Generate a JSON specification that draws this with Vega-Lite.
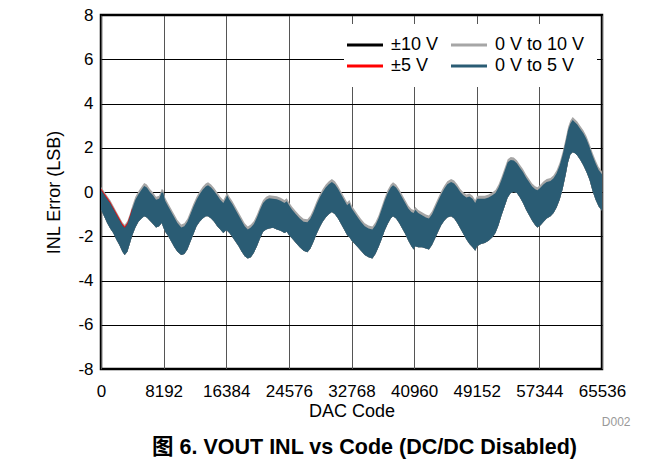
{
  "$schema": "https://vega.github.io/schema/vega-lite/v6.json",
  "width": 501,
  "height": 354,
  "autosize": {"type": "none"},
  "padding": {"left": 101, "top": 15, "right": 69, "bottom": 96},
  "background": "white",
  "config": {
    "view": {"stroke": "black", "strokeWidth": 2.5},
    "font": "Liberation Sans",
    "axis": {
      "labelFont": "Liberation Sans",
      "labelFontSize": 17,
      "labelColor": "black",
      "titleFont": "Liberation Sans",
      "titleFontSize": 18,
      "titleFontWeight": "normal",
      "titleColor": "black",
      "ticks": false,
      "tickSize": 0,
      "domain": false,
      "gridColor": "black",
      "gridWidth": 1,
      "gridOpacity": 1
    }
  },
  "title": {
    "text": "图 6. VOUT INL vs Code (DC/DC Disabled)",
    "orient": "bottom",
    "anchor": "middle",
    "fontSize": 21.5,
    "fontWeight": "bold",
    "font": "Liberation Sans, Noto Sans CJK SC",
    "color": "black",
    "offset": 10,
    "dx": 13
  },
  "datasets": {
    "inl": [
      {"code": 0, "hi": 0.1, "lo": -0.8},
      {"code": 400, "hi": -0.1, "lo": -1.1},
      {"code": 800, "hi": -0.3, "lo": -1.4},
      {"code": 1200, "hi": -0.5, "lo": -1.65},
      {"code": 1600, "hi": -0.75, "lo": -1.85},
      {"code": 2000, "hi": -1.0, "lo": -2.15},
      {"code": 2400, "hi": -1.25, "lo": -2.4},
      {"code": 2800, "hi": -1.5, "lo": -2.7},
      {"code": 3100, "hi": -1.62, "lo": -2.85},
      {"code": 3450, "hi": -1.45, "lo": -2.7},
      {"code": 3800, "hi": -1.1, "lo": -2.3},
      {"code": 4100, "hi": -0.75, "lo": -1.95},
      {"code": 4500, "hi": -0.35, "lo": -1.6},
      {"code": 4900, "hi": -0.1, "lo": -1.35},
      {"code": 5300, "hi": 0.1, "lo": -1.2},
      {"code": 5650, "hi": 0.27, "lo": -1.1},
      {"code": 6000, "hi": 0.2, "lo": -1.15},
      {"code": 6400, "hi": 0.0, "lo": -1.3},
      {"code": 6800, "hi": -0.15, "lo": -1.45},
      {"code": 7200, "hi": -0.35, "lo": -1.6},
      {"code": 7600, "hi": -0.3, "lo": -1.55},
      {"code": 7950, "hi": 0.0, "lo": -1.4},
      {"code": 8150, "hi": -0.05, "lo": -1.6},
      {"code": 8400, "hi": -0.4, "lo": -1.8},
      {"code": 8800, "hi": -0.65, "lo": -2.0},
      {"code": 9200, "hi": -0.9, "lo": -2.25},
      {"code": 9600, "hi": -1.15, "lo": -2.5},
      {"code": 10000, "hi": -1.4, "lo": -2.7},
      {"code": 10500, "hi": -1.6, "lo": -2.85},
      {"code": 10900, "hi": -1.55, "lo": -2.8},
      {"code": 11300, "hi": -1.35, "lo": -2.6},
      {"code": 11700, "hi": -1.0, "lo": -2.25},
      {"code": 12100, "hi": -0.65, "lo": -1.9},
      {"code": 12500, "hi": -0.35, "lo": -1.55},
      {"code": 12900, "hi": -0.1, "lo": -1.35},
      {"code": 13300, "hi": 0.1, "lo": -1.2},
      {"code": 13700, "hi": 0.25, "lo": -1.1},
      {"code": 14000, "hi": 0.3, "lo": -1.1},
      {"code": 14400, "hi": 0.2, "lo": -1.2},
      {"code": 14800, "hi": 0.05, "lo": -1.35},
      {"code": 15200, "hi": -0.15, "lo": -1.55},
      {"code": 15600, "hi": -0.35, "lo": -1.7},
      {"code": 16000, "hi": -0.5, "lo": -1.85},
      {"code": 16300, "hi": -0.3, "lo": -1.75},
      {"code": 16500, "hi": -0.15, "lo": -1.75},
      {"code": 16800, "hi": -0.35, "lo": -1.85},
      {"code": 17200, "hi": -0.55, "lo": -2.05},
      {"code": 17600, "hi": -0.8, "lo": -2.25},
      {"code": 18000, "hi": -1.05, "lo": -2.45},
      {"code": 18400, "hi": -1.3, "lo": -2.7},
      {"code": 18800, "hi": -1.55, "lo": -2.9},
      {"code": 19200, "hi": -1.7, "lo": -3.0},
      {"code": 19600, "hi": -1.6, "lo": -2.95},
      {"code": 20000, "hi": -1.45, "lo": -2.75},
      {"code": 20400, "hi": -1.15, "lo": -2.45},
      {"code": 20800, "hi": -0.8, "lo": -2.1},
      {"code": 21200, "hi": -0.5, "lo": -1.8},
      {"code": 21600, "hi": -0.35, "lo": -1.7},
      {"code": 22000, "hi": -0.28, "lo": -1.65},
      {"code": 22500, "hi": -0.3, "lo": -1.62},
      {"code": 23000, "hi": -0.33, "lo": -1.7},
      {"code": 23500, "hi": -0.4, "lo": -1.75},
      {"code": 24000, "hi": -0.5, "lo": -1.85},
      {"code": 24300, "hi": -0.42, "lo": -1.8},
      {"code": 24600, "hi": -0.6, "lo": -1.95},
      {"code": 25000, "hi": -0.8, "lo": -2.1},
      {"code": 25500, "hi": -1.0, "lo": -2.3},
      {"code": 26000, "hi": -1.2, "lo": -2.5},
      {"code": 26500, "hi": -1.35, "lo": -2.65},
      {"code": 27000, "hi": -1.37, "lo": -2.72},
      {"code": 27400, "hi": -1.2, "lo": -2.55},
      {"code": 27800, "hi": -0.9, "lo": -2.25},
      {"code": 28200, "hi": -0.55, "lo": -1.9},
      {"code": 28600, "hi": -0.25, "lo": -1.6},
      {"code": 29000, "hi": 0.0, "lo": -1.35},
      {"code": 29400, "hi": 0.2, "lo": -1.15},
      {"code": 29800, "hi": 0.35, "lo": -1.0},
      {"code": 30200, "hi": 0.45, "lo": -0.9},
      {"code": 30600, "hi": 0.35, "lo": -1.0},
      {"code": 31000, "hi": 0.15, "lo": -1.2},
      {"code": 31400, "hi": -0.1, "lo": -1.45},
      {"code": 31800, "hi": -0.35, "lo": -1.7},
      {"code": 32200, "hi": -0.6, "lo": -1.95},
      {"code": 32500, "hi": -0.5, "lo": -2.05},
      {"code": 32800, "hi": -0.75, "lo": -2.2},
      {"code": 33200, "hi": -0.95, "lo": -2.35},
      {"code": 33600, "hi": -1.15, "lo": -2.5},
      {"code": 34000, "hi": -1.35, "lo": -2.65},
      {"code": 34500, "hi": -1.55, "lo": -2.85},
      {"code": 35000, "hi": -1.65, "lo": -2.95},
      {"code": 35500, "hi": -1.7, "lo": -3.0},
      {"code": 35900, "hi": -1.5, "lo": -2.8},
      {"code": 36300, "hi": -1.2, "lo": -2.5},
      {"code": 36700, "hi": -0.8, "lo": -2.15},
      {"code": 37100, "hi": -0.4, "lo": -1.75},
      {"code": 37500, "hi": -0.05, "lo": -1.45},
      {"code": 37900, "hi": 0.2, "lo": -1.2},
      {"code": 38200, "hi": 0.3, "lo": -1.1},
      {"code": 38600, "hi": 0.2, "lo": -1.2},
      {"code": 39000, "hi": 0.0, "lo": -1.4},
      {"code": 39400, "hi": -0.25, "lo": -1.65},
      {"code": 39800, "hi": -0.5, "lo": -1.9},
      {"code": 40200, "hi": -0.75, "lo": -2.2},
      {"code": 40600, "hi": -0.9, "lo": -2.45},
      {"code": 40900, "hi": -0.95, "lo": -2.6},
      {"code": 41100, "hi": -0.8, "lo": -2.45},
      {"code": 41500, "hi": -0.95, "lo": -2.5},
      {"code": 42000, "hi": -1.05, "lo": -2.5},
      {"code": 42500, "hi": -1.15, "lo": -2.55},
      {"code": 42900, "hi": -1.2, "lo": -2.6},
      {"code": 43300, "hi": -1.0, "lo": -2.4},
      {"code": 43700, "hi": -0.7, "lo": -2.1},
      {"code": 44100, "hi": -0.4, "lo": -1.8},
      {"code": 44500, "hi": -0.1, "lo": -1.5},
      {"code": 44900, "hi": 0.15, "lo": -1.3},
      {"code": 45300, "hi": 0.35, "lo": -1.15},
      {"code": 45800, "hi": 0.45, "lo": -1.1},
      {"code": 46200, "hi": 0.38, "lo": -1.2},
      {"code": 46600, "hi": 0.22, "lo": -1.4},
      {"code": 47000, "hi": 0.0, "lo": -1.65},
      {"code": 47400, "hi": -0.15, "lo": -1.9},
      {"code": 47800, "hi": -0.25, "lo": -2.15},
      {"code": 48200, "hi": -0.2, "lo": -2.35},
      {"code": 48600, "hi": -0.3, "lo": -2.5},
      {"code": 48950, "hi": -0.5, "lo": -2.65},
      {"code": 49200, "hi": -0.3, "lo": -2.45},
      {"code": 49700, "hi": -0.3, "lo": -2.35},
      {"code": 50200, "hi": -0.3, "lo": -2.3},
      {"code": 50700, "hi": -0.25, "lo": -2.2},
      {"code": 51200, "hi": -0.15, "lo": -2.05},
      {"code": 51600, "hi": -0.05, "lo": -1.85},
      {"code": 52000, "hi": 0.2, "lo": -1.5},
      {"code": 52400, "hi": 0.55, "lo": -1.05},
      {"code": 52800, "hi": 0.95, "lo": -0.65},
      {"code": 53200, "hi": 1.35, "lo": -0.25},
      {"code": 53600, "hi": 1.45, "lo": -0.05},
      {"code": 54000, "hi": 1.42, "lo": 0.0},
      {"code": 54400, "hi": 1.3, "lo": -0.05},
      {"code": 54800, "hi": 1.1, "lo": -0.25},
      {"code": 55200, "hi": 0.9, "lo": -0.5},
      {"code": 55600, "hi": 0.65, "lo": -0.8},
      {"code": 56000, "hi": 0.45, "lo": -1.05},
      {"code": 56400, "hi": 0.25, "lo": -1.3},
      {"code": 56800, "hi": 0.12, "lo": -1.5},
      {"code": 57100, "hi": 0.08, "lo": -1.6},
      {"code": 57500, "hi": 0.2, "lo": -1.5},
      {"code": 57900, "hi": 0.35, "lo": -1.35},
      {"code": 58300, "hi": 0.45, "lo": -1.2},
      {"code": 58800, "hi": 0.5, "lo": -1.1},
      {"code": 59200, "hi": 0.62, "lo": -0.95},
      {"code": 59600, "hi": 0.85, "lo": -0.7},
      {"code": 60000, "hi": 1.2, "lo": -0.35},
      {"code": 60400, "hi": 1.7, "lo": 0.15},
      {"code": 60800, "hi": 2.3, "lo": 0.8},
      {"code": 61100, "hi": 2.8, "lo": 1.35},
      {"code": 61400, "hi": 3.1, "lo": 1.7},
      {"code": 61700, "hi": 3.25, "lo": 1.8},
      {"code": 62000, "hi": 3.15, "lo": 1.75},
      {"code": 62300, "hi": 3.05, "lo": 1.65},
      {"code": 62700, "hi": 2.85, "lo": 1.45},
      {"code": 63100, "hi": 2.65, "lo": 1.2},
      {"code": 63500, "hi": 2.4, "lo": 0.9},
      {"code": 63900, "hi": 2.05, "lo": 0.55},
      {"code": 64300, "hi": 1.65, "lo": 0.05},
      {"code": 64700, "hi": 1.3, "lo": -0.35},
      {"code": 65100, "hi": 1.0, "lo": -0.65},
      {"code": 65535, "hi": 0.8, "lo": -0.85}
    ],
    "red": [
      {"code": 0, "hi": 0.16, "lo": -0.3},
      {"code": 400, "hi": -0.04, "lo": -0.45},
      {"code": 800, "hi": -0.24, "lo": -0.65},
      {"code": 1200, "hi": -0.44, "lo": -0.85},
      {"code": 1600, "hi": -0.69, "lo": -1.05},
      {"code": 2000, "hi": -0.94, "lo": -1.3},
      {"code": 2400, "hi": -1.19, "lo": -1.55},
      {"code": 2800, "hi": -1.44, "lo": -1.8},
      {"code": 3100, "hi": -1.56, "lo": -1.9},
      {"code": 3450, "hi": -1.39, "lo": -1.8},
      {"code": 3800, "hi": -1.04, "lo": -1.4},
      {"code": 4100, "hi": -0.69, "lo": -1.1}
    ]
  },
  "encoding": {
    "y": {
      "field": "hi",
      "type": "quantitative",
      "scale": {"domain": [-8, 8], "nice": false, "zero": false},
      "axis": {
        "values": [-8, -6, -4, -2, 0, 2, 4, 6, 8],
        "title": "INL Error (LSB)",
        "labelExpr": "'' + datum.value",
        "labelPadding": 8,
        "titlePadding": 14,
        "gridColor": "black"
      }
    },
    "y2": {"field": "lo"}
  },
  "layer": [
    {
      "data": {"name": "inl"},
      "mark": {"type": "area"},
      "encoding": {
        "x": {
          "field": "code",
          "type": "quantitative",
          "scale": {"domain": [0, 65536], "nice": false, "zero": false},
          "axis": {
            "orient": "bottom",
            "values": [0, 8192, 16384, 24576, 32768, 40960, 49152, 57344, 65536],
            "title": "DAC Code",
            "labelExpr": "'' + datum.value",
            "labelPadding": 14,
            "titlePadding": 3,
            "labelFlush": false,
            "gridColor": "#555555"
          }
        },
        "color": {
          "datum": "±10 V",
          "type": "nominal",
          "scale": {
            "domain": ["±10 V", "±5 V", "0 V to 10 V", "0 V to 5 V"],
            "range": ["#000000", "#ff0000", "#a6a6a6", "#2a5c74"]
          },
          "legend": {
            "orient": "none",
            "legendX": 243,
            "legendY": 9,
            "columns": 2,
            "title": null,
            "symbolType": "M-2,-0.17H2V0.17H-2Z",
            "symbolSize": 324,
            "symbolStrokeWidth": 0,
            "labelFontSize": 18,
            "labelFont": "Liberation Sans",
            "labelColor": "black",
            "labelOffset": 17,
            "columnPadding": 13,
            "rowPadding": 3,
            "padding": 12,
            "fillColor": "white"
          }
        }
      }
    },
    {
      "data": {"name": "inl"},
      "mark": {"type": "area", "yOffset": -3},
      "encoding": {
        "x": {"field": "code", "type": "quantitative", "axis": null},
        "color": {"datum": "0 V to 10 V", "type": "nominal"}
      }
    },
    {
      "data": {"name": "red"},
      "mark": {"type": "area"},
      "encoding": {
        "x": {
          "field": "code",
          "type": "quantitative",
          "axis": {
            "orient": "bottom",
            "title": "D002",
            "labels": false,
            "grid": false,
            "domain": false,
            "ticks": false,
            "titleX": 529,
            "titleY": 52,
            "titleAlign": "right",
            "titleBaseline": "middle",
            "titleFontSize": 12,
            "titleColor": "#999999"
          }
        },
        "color": {"datum": "±5 V", "type": "nominal"}
      }
    },
    {
      "data": {"name": "inl"},
      "mark": {"type": "area"},
      "encoding": {
        "x": {"field": "code", "type": "quantitative", "axis": null},
        "color": {"datum": "0 V to 5 V", "type": "nominal"}
      }
    }
  ],
  "resolve": {"axis": {"x": "independent"}}
}
